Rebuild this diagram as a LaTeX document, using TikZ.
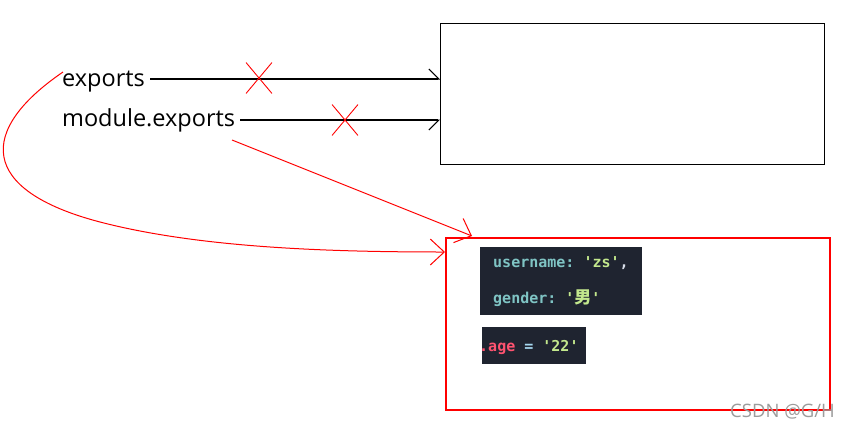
\documentclass[tikz,border=0pt]{standalone}
\usepackage{fontspec}
\setmainfont{Open Sans}
\setmonofont{DejaVu Sans Mono}
\newfontfamily\cjk{Noto Sans CJK SC}
\usetikzlibrary{arrows.meta,shapes.misc}
\definecolor{codebg}{HTML}{1F2430}
\definecolor{keyc}{HTML}{7FC4C4}
\definecolor{strc}{HTML}{C3E88D}
\definecolor{agec}{HTML}{FF5370}
\definecolor{punc}{HTML}{D8DEE9}
\definecolor{eqc}{HTML}{A6D8F0}
\definecolor{sketchred}{RGB}{255,0,0}
\definecolor{wmark}{HTML}{9C9C9C}
\begin{document}
\begin{tikzpicture}[x=1pt,y=-1pt,
  lbl/.style={font=\fontsize{23.5}{28}\selectfont, inner xsep=5pt, inner ysep=2pt, anchor=base west},
  blackbox/.style={draw=black, line width=1.3pt, minimum width=384pt, minimum height=141pt, anchor=north west, inner sep=0pt},
  redbox/.style={draw=sketchred, line width=1.5pt, minimum width=384pt, minimum height=172pt, anchor=north west, inner sep=0pt},
  codebox/.style={fill=codebg, anchor=north west, inner sep=0pt},
  codetext/.style={font=\ttfamily\bfseries\fontsize{15}{18}\selectfont, anchor=base west, inner sep=0pt},
  xmark/.style={cross out, draw=sketchred, line width=0.9pt, minimum width=25pt, minimum height=30pt, inner sep=0pt},
  blackarrow/.style={line width=1.5pt, -{Straight Barb[harpoon,length=10pt,width=20pt,line width=1pt]}},
  blackarrowb/.style={line width=1.5pt, -{Straight Barb[harpoon,swap,length=10pt,width=20pt,line width=1pt]}},
  redarrow/.style={draw=sketchred, line width=1pt, -{Straight Barb[length=14pt,width=26pt,line width=1pt]}},
]
\useasboundingbox (0,0) rectangle (853,429);
\fill[white] (0,0) rectangle (853,429);

% boxes
\node[blackbox] (bbox) at (440,23) {};
\node[redbox] (rbox) at (445,237) {};

% labels
\node[lbl] (ex) at (57,86) {exports};
\node[lbl] (me) at (57,126) {module.exports};

% black arrows
\coordinate (exa) at ([yshift=7pt]ex.base east);
\coordinate (mea) at ([yshift=6pt]me.base east);
\draw[blackarrow] (exa) -- (bbox.west |- exa);
\draw[blackarrowb] (mea) -- (bbox.west |- mea);

% crosses
\node[xmark] (x1) at (259,78) {};
\node[xmark] (x2) at (345,120) {};

% red arrows
\coordinate (mstart) at (232,140);
\coordinate (rtop) at (472,236);
\draw[redarrow] (mstart) -- (rtop);
\coordinate (cstart) at (63,72);
\coordinate (cmid) at (100,222);
\coordinate (cend) at (rbox.west |- 0,252);
\draw[redarrow] (cstart) .. controls (-22,130) and (-22,190) .. (cmid)
  .. controls (200,248) and (330,252) .. (cend);

% code snippets
\node[codebox, minimum width=162pt, minimum height=68pt] (code1) at (480,247) {};
\node[codebox, minimum width=104pt, minimum height=37pt] (code2) at (482,327) {};
\node[codetext] (l1) at (493,267) {\textcolor{keyc}{username:} \textcolor{strc}{'zs'}\textcolor{punc}{,}};
\node[codetext] (l2) at (493,303) {\textcolor{keyc}{gender:} \textcolor{strc}{'{\cjk\fontsize{17}{18}\selectfont 男}'}};
\node[codetext] (l3) at (479,351) {\textcolor{agec}{.age} \textcolor{eqc}{=} \textcolor{strc}{'22'}};

% watermark
\node[font=\fontsize{18.5}{20}\selectfont, text=wmark, anchor=base west, inner sep=0pt] (wm) at (730,417) {CSDN @G/H};
\end{tikzpicture}
\end{document}
